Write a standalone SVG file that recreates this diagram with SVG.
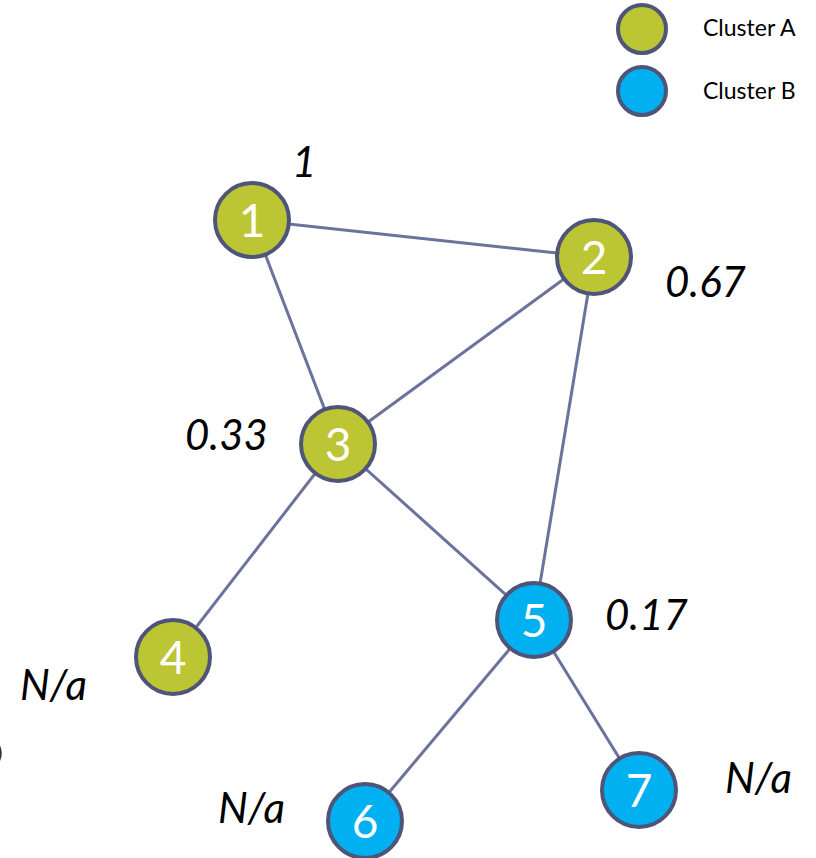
<svg xmlns="http://www.w3.org/2000/svg" width="816" height="858" viewBox="0 0 816 858">
  <style>
    .edge { stroke: #6b739c; stroke-width: 3; fill: none; }
    .node { stroke: #4f5578; stroke-width: 4; }
    .a { fill: #bcc534; }
    .b { fill: #00b0f0; }
    .num { font-family: Lato, "Open Sans", sans-serif; font-size: 46px; fill: #ffffff; text-anchor: middle; }
    .val { font-family: Lato, "Open Sans", sans-serif; font-style: italic; font-size: 42px; fill: #000000; }
    .leg { font-family: Lato, "Open Sans", sans-serif; font-size: 23px; fill: #000000; }
  </style>
  <rect width="816" height="858" fill="#ffffff"/>

  <!-- legend -->
  <g id="legend">
    <circle class="node a" cx="642" cy="29" r="24"/>
    <text class="leg" x="703" y="36">Cluster A</text>
    <circle class="node b" cx="642" cy="91" r="24"/>
    <text class="leg" x="703" y="99">Cluster B</text>
  </g>

  <!-- connectors -->
  <g id="edges">
    <line class="edge" x1="252" y1="220" x2="594" y2="257"/>
    <line class="edge" x1="252" y1="220" x2="338" y2="444"/>
    <line class="edge" x1="594" y1="257" x2="338" y2="444"/>
    <line class="edge" x1="594" y1="257" x2="534" y2="620"/>
    <line class="edge" x1="338" y1="444" x2="173" y2="657"/>
    <line class="edge" x1="338" y1="444" x2="534" y2="620"/>
    <line class="edge" x1="534" y1="620" x2="365" y2="821"/>
    <line class="edge" x1="534" y1="620" x2="639" y2="790"/>
  </g>

  <!-- nodes -->
  <g id="node1">
    <circle class="node a" cx="252" cy="220" r="37"/>
    <text class="num" x="252" y="237">1</text>
  </g>
  <g id="node2">
    <circle class="node a" cx="594" cy="257" r="37"/>
    <text class="num" x="594" y="274">2</text>
  </g>
  <g id="node3">
    <circle class="node a" cx="338" cy="444" r="37"/>
    <text class="num" x="338" y="461">3</text>
  </g>
  <g id="node4">
    <circle class="node a" cx="173" cy="657" r="37"/>
    <text class="num" x="173" y="674">4</text>
  </g>
  <g id="node5">
    <circle class="node b" cx="534" cy="620" r="37"/>
    <text class="num" x="534" y="637">5</text>
  </g>
  <g id="node6">
    <circle class="node b" cx="365" cy="821" r="37"/>
    <text class="num" x="365" y="838">6</text>
  </g>
  <g id="node7">
    <circle class="node b" cx="639" cy="790" r="37"/>
    <text class="num" x="639" y="807">7</text>
  </g>

  <!-- coefficient values -->
  <g id="values">
    <text class="val" x="292" y="177">1</text>
    <text class="val" x="665" y="297">0.67</text>
    <text class="val" x="185" y="450">0.33</text>
    <text class="val" x="605" y="630">0.17</text>
    <text class="val" x="20" y="700">N/a</text>
    <text class="val" x="218" y="823">N/a</text>
    <text class="val" x="725" y="793">N/a</text>
  </g>

  <!-- clipped stroke at the left margin -->
  <path d="M -2 744 Q 3 752 -1 761" stroke="#333333" stroke-width="2" fill="none"/>
</svg>
